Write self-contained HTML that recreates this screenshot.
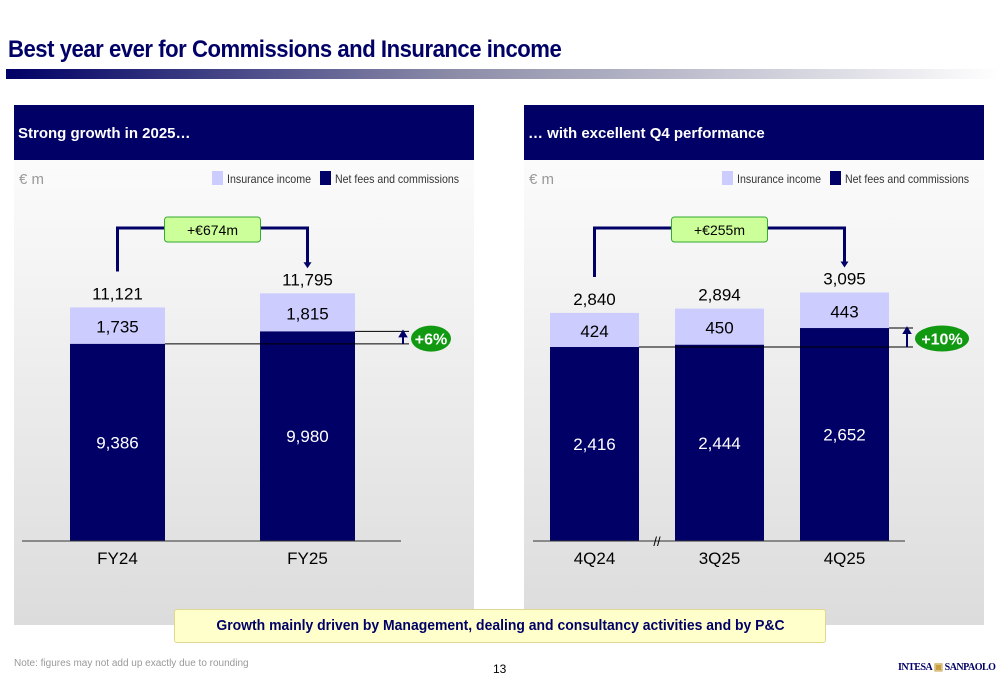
<!DOCTYPE html>
<html><head><meta charset="utf-8"><style>
body{margin:0;width:1000px;height:685px;background:#fff;font-family:"Liberation Sans",sans-serif;overflow:hidden;position:relative}
.t{position:absolute;white-space:nowrap}
</style></head><body>
<div class="t" style="left:8px;top:36px;font-size:24px;font-weight:bold;color:#000066;letter-spacing:-0.5px;transform:scaleX(0.92);transform-origin:left">Best year ever for Commissions and Insurance income</div>
<div style="position:absolute;left:6px;top:69px;width:994px;height:10px;background:linear-gradient(90deg,#000066,#8c8ca8 45%,#fff)"></div>
<svg id="c" width="1000" height="685" style="position:absolute;left:0;top:0">
<defs><linearGradient id="bg" x1="0" y1="0" x2="0" y2="1"><stop offset="0" stop-color="#ffffff"/><stop offset="1" stop-color="#dcdcdc"/></linearGradient></defs>
</svg>
<div class="t" style="left:174px;top:609px;width:650px;height:32px;background:#ffffcc;border:1px solid #e0d890;border-radius:3px;font-weight:bold;color:#000066;font-size:15px;line-height:32px;text-align:center"><span style="display:inline-block;transform:scaleX(0.93)">Growth mainly driven by Management, dealing and consultancy activities and by P&amp;C</span></div>
<div class="t" style="left:14px;top:658px;font-size:10px;color:#999">Note: figures may not add up exactly due to rounding</div>
<div class="t" style="left:493px;top:662px;font-size:12px;color:#000">13</div>
<div class="t" style="left:898px;top:662px;font-size:10px;font-weight:bold;color:#000066;font-family:'Liberation Serif',serif;letter-spacing:-0.5px">INTESA <span style="color:#c8a040">▣</span> SANPAOLO</div>
<script>
const leftCats=["FY24","FY25"];
const leftFees=[9386,9980];
const leftIns=[1735,1815];
const leftTotals=["11,121","11,795"];
const rightCats=["4Q24","3Q25","4Q25"];
const rightFees=[2416,2444,2652];
const rightIns=[424,450,443];
const rightTotals=["2,840","2,894","3,095"];
const NS="http://www.w3.org/2000/svg";
const svg=document.getElementById('c');
function el(tag,a,txt){const e=document.createElementNS(NS,tag);for(const k in a)e.setAttribute(k,a[k]);if(txt!==undefined)e.textContent=txt;svg.appendChild(e);return e;}
function fmt(v){return v.toLocaleString('en-US');}
function panel(x0,title,name){
  let r=el('rect',{x:x0,y:105,width:460,height:520,fill:'url(#bg)'});
  
  r=el('rect',{x:x0,y:105,width:460,height:55,fill:'#000066'});
  
  let t=el('text',{x:x0+4,y:138,fill:'#fff','font-size':15,'font-weight':'bold'},title);
  
  t=el('text',{x:x0+5,y:184,fill:'#999','font-size':15},'€ m');
  
  r=el('rect',{x:x0+198,y:171,width:11,height:14,fill:'#ccccff'});
  
  t=el('text',{x:x0+213,y:183,fill:'#333','font-size':12,textLength:84,lengthAdjust:'spacingAndGlyphs'},'Insurance income');
  
  r=el('rect',{x:x0+306,y:171,width:11,height:14,fill:'#000066'});
  
  t=el('text',{x:x0+321,y:183,fill:'#333','font-size':12,textLength:124,lengthAdjust:'spacingAndGlyphs'},'Net fees and commissions');
  
}
function chart(o){
  const base=541;const y=v=>base-v*o.scale;
  const bars=[];
  o.cats.forEach((c,i)=>{
    const x=o.xs[i],w=o.w,f=o.fees[i],s=o.ins[i];
    let r=el('rect',{x:x,y:y(f+s),width:w,height:s*o.scale,fill:'#ccccff'});
    
    r=el('rect',{x:x,y:y(f),width:w,height:f*o.scale,fill:'#000066'});
    
    let t=el('text',{x:x+w/2,y:(y(f)+base)/2+6,fill:'#fff','font-size':17,'text-anchor':'middle'},fmt(f));
    
    t=el('text',{x:x+w/2,y:(y(f)+y(f+s))/2+7,fill:'#000','font-size':17,'text-anchor':'middle'},fmt(s));
    
    t=el('text',{x:x+w/2,y:y(f+s)-8,fill:'#000','font-size':17,'text-anchor':'middle'},o.totals[i]);
    
    t=el('text',{x:x+w/2,y:564,fill:'#000','font-size':17,'text-anchor':'middle'},c);
    
    bars.push({x,w,top:y(f+s),fee:y(f)});
  });
  let l=el('line',{x1:o.ax0,x2:o.ax1,y1:base,y2:base,stroke:'#333','stroke-width':1});
  
  const a=bars[0],b=bars[bars.length-1];
  const rx=o.ax1+2;
  l=el('line',{x1:a.x+a.w,x2:rx+6,y1:a.fee,y2:a.fee,stroke:'#000'});
  
  l=el('line',{x1:b.x+b.w,x2:rx+6,y1:b.fee,y2:b.fee,stroke:'#000'});
  
  let p=el('path',{d:`M${rx} ${a.fee} V${b.fee+4} M${rx-3} ${b.fee+5} L${rx} ${b.fee} L${rx+3} ${b.fee+5}Z`,stroke:'#000066','stroke-width':2,fill:'#000066'});
  
  const ex=rx+6+o.ew/2+2,ey=(a.fee+b.fee)/2+1;
  let e=el('ellipse',{cx:ex,cy:ey,rx:o.ew/2,ry:13,fill:'#119911'});
  
  let t=el('text',{x:ex,y:ey+6,fill:'#fff','font-size':16,'font-weight':'bold','text-anchor':'middle'},o.pct);
  
  const lx=a.x+a.w/2,ux=b.x+b.w/2;
  p=el('path',{d:`M${lx} ${a.top-36} V228 H${ux} V${b.top-30}`,stroke:'#000066','stroke-width':3,fill:'none'});
  
  p=el('path',{d:`M${ux-4} ${b.top-31} L${ux} ${b.top-25} L${ux+4} ${b.top-31}Z`,fill:'#000066'});
  
  const bx=(lx+ux)/2-48;
  let r=el('rect',{x:bx,y:217,width:96,height:25,rx:3,fill:'#ccff99',stroke:'#33aa33'});
  
  t=el('text',{x:bx+48,y:235,fill:'#000','font-size':14,'text-anchor':'middle'},o.delta);
  
}
panel(14,'Strong growth in 2025…','left-panel');
panel(524,'… with excellent Q4 performance','right-panel');
chart({cats:leftCats,fees:leftFees,ins:leftIns,totals:leftTotals,scale:0.021,xs:[70,260],w:95,ax0:22,ax1:401,pct:'+6%',ew:40,delta:'+€674m'});
chart({cats:rightCats,fees:rightFees,ins:rightIns,totals:rightTotals,scale:0.0803,xs:[550,675,800],w:89,ax0:533,ax1:905,pct:'+10%',ew:54,delta:'+€255m'});
let br=el('text',{x:657,y:546,fill:'#000','font-size':13,'text-anchor':'middle'},'//');

</script>
</body></html>
